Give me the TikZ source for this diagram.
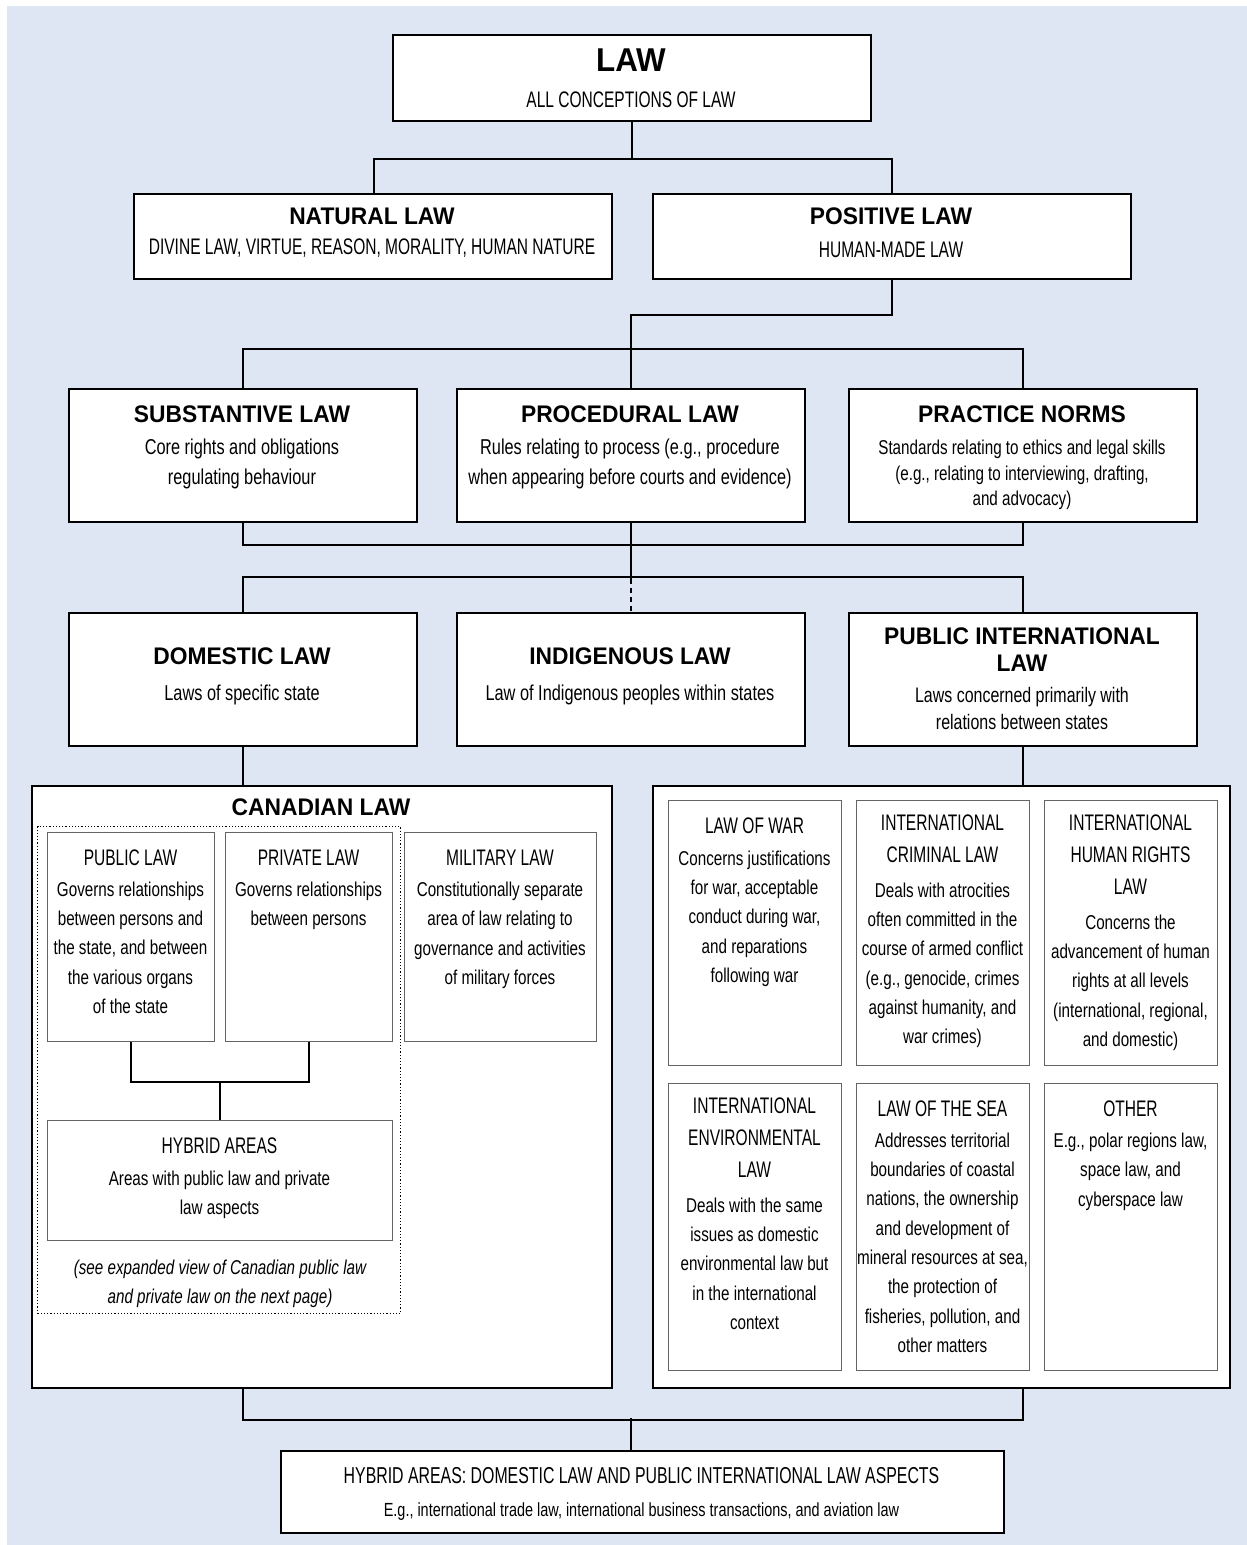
\documentclass[tikz,border=0pt]{standalone}
\usepackage{fontspec}
\setmainfont{Liberation Sans}
\newfontfamily\bodyf{Liberation Sans}[FakeStretch=0.76]
\newfontfamily\headf{Liberation Sans}[FakeStretch=0.69]
\newfontfamily\titlef{Liberation Sans}[FakeStretch=0.95]
\definecolor{bgblue}{RGB}{222,230,243}
\definecolor{thin}{RGB}{100,100,100}
\tikzset{
  bigbox/.style={draw=black, line width=2pt, fill=white, inner sep=0pt, anchor=north west},
  smallbox/.style={draw=thin, line width=1pt, fill=white, inner sep=0pt, anchor=north west},
  conn/.style={line width=2pt, black},
  tx/.style={align=center, inner sep=0pt, yshift=-4.5pt, execute at begin node=\strut, execute at end node=\strut},
  ttl/.style={tx, font=\titlef\bfseries\fontsize{24}{27}\selectfont},
  bigttl/.style={tx, font=\titlef\bfseries\fontsize{33}{36}\selectfont},
  hd/.style={tx, font=\headf\fontsize{22.5}{32}\selectfont},
  bdA/.style={tx, font=\bodyf\fontsize{21.5}{30}\selectfont},
  bdB/.style={tx, font=\bodyf\fontsize{20}{29.3}\selectfont},
}
\begin{document}
\begin{tikzpicture}[x=1pt,y=-1pt]
\useasboundingbox (0,0) rectangle (1247,1545);
\fill[bgblue] (7,6) rectangle (1247,1545);

% ---- level 1
\node[bigbox, minimum width=478, minimum height=86] (law) at (392,34) {};
\node[bigttl] (lawT) at (631,60) {LAW};
\node[hd] (lawS) at (631,97) {ALL CONCEPTIONS OF LAW};

% ---- level 2
\node[bigbox, minimum width=478, minimum height=85] (nat) at (133,193) {};
\node[ttl] (natT) at (372,215) {NATURAL LAW};
\node[hd] (natS) at (372,244) {DIVINE LAW, VIRTUE, REASON, MORALITY, HUMAN NATURE};
\node[bigbox, minimum width=478, minimum height=85] (pos) at (652,193) {};
\node[ttl] (posT) at (891,215) {POSITIVE LAW};
\node[hd] (posS) at (891,247) {HUMAN-MADE LAW};

% ---- level 3
\node[bigbox, minimum width=348, minimum height=133] (sub) at (68,388) {};
\node[ttl] (subT) at (242,413) {SUBSTANTIVE LAW};
\node[bdA] (subB) at (242,462) {Core rights and obligations\\regulating behaviour};
\node[bigbox, minimum width=348, minimum height=133] (proc) at (456,388) {};
\node[ttl] (procT) at (630,413) {PROCEDURAL LAW};
\node[bdA] (procB) at (630,462) {Rules relating to process (e.g., procedure\\when appearing before courts and evidence)};
\node[bigbox, minimum width=348, minimum height=133] (prac) at (848,388) {};
\node[ttl] (pracT) at (1022,413) {PRACTICE NORMS};
\node[bdA, font=\bodyf\fontsize{20}{25.5}\selectfont] (pracB) at (1022,472.5) {Standards relating to ethics and legal skills\\(e.g., relating to interviewing, drafting,\\and advocacy)};

% ---- level 4
\node[bigbox, minimum width=348, minimum height=133] (dom) at (68,612) {};
\node[ttl] (domT) at (242,655) {DOMESTIC LAW};
\node[bdA] (domB) at (242,690) {Laws of specific state};
\node[bigbox, minimum width=348, minimum height=133] (ind) at (456,612) {};
\node[ttl] (indT) at (630,655) {INDIGENOUS LAW};
\node[bdA] (indB) at (630,690) {Law of Indigenous peoples within states};
\node[bigbox, minimum width=348, minimum height=133] (pub) at (848,612) {};
\node[ttl] (pubT) at (1022,649.5) {PUBLIC INTERNATIONAL\\LAW};
\node[bdA, font=\bodyf\fontsize{21}{27}\selectfont] (pubB) at (1022,707.5) {Laws concerned primarily with\\relations between states};

% ---- Canadian law
\node[bigbox, minimum width=580, minimum height=602] (can) at (31,785) {};
\node[ttl] (canT) at (321,806) {CANADIAN LAW};
\node[draw, dotted, line width=1.2pt, inner sep=0pt, anchor=north west, minimum width=363, minimum height=487] (dotb) at (37,826) {};
\node[smallbox, minimum width=167, minimum height=209] (publ) at (47,832) {};
\node[hd] (publT) at (130.5,855) {PUBLIC LAW};
\node[bdB] (publB) at (130.5,947.5) {Governs relationships\\between persons and\\the state, and between\\the various organs\\of the state};
\node[smallbox, minimum width=167, minimum height=209] (priv) at (225,832) {};
\node[hd] (privT) at (308.5,855) {PRIVATE LAW};
\node[bdB] (privB) at (308.5,903.5) {Governs relationships\\between persons};
\node[smallbox, minimum width=192, minimum height=209] (mil) at (404,832) {};
\node[hd] (milT) at (500,855) {MILITARY LAW};
\node[bdB] (milB) at (500,933) {Constitutionally separate\\area of law relating to\\governance and activities\\of military forces};
\node[smallbox, minimum width=345, minimum height=120] (hyb) at (47,1120) {};
\node[hd] (hybT) at (219.5,1143) {HYBRID AREAS};
\node[bdB] (hybB) at (219.5,1192.5) {Areas with public law and private\\law aspects};
\node[bdB, font=\bodyf\itshape\fontsize{20}{29.3}\selectfont] (note) at (220,1281.5) {(see expanded view of Canadian public law\\and private law on the next page)};

% ---- International
\node[bigbox, minimum width=577, minimum height=602] (intl) at (652,785) {};
\node[smallbox, minimum width=173, minimum height=265] (war) at (668,800) {};
\node[hd] (warT) at (754.5,823) {LAW OF WAR};
\node[bdB] (warB) at (754.5,916.5) {Concerns justifications\\for war, acceptable\\conduct during war,\\and reparations\\following war};
\node[smallbox, minimum width=173, minimum height=265] (icl) at (856,800) {};
\node[hd] (iclT) at (942.5,839) {INTERNATIONAL\\CRIMINAL LAW};
\node[bdB] (iclB) at (942.5,963) {Deals with atrocities\\often committed in the\\course of armed conflict\\(e.g., genocide, crimes\\against humanity, and\\war crimes)};
\node[smallbox, minimum width=173, minimum height=265] (ihr) at (1044,800) {};
\node[hd] (ihrT) at (1130.5,855) {INTERNATIONAL\\HUMAN RIGHTS\\LAW};
\node[bdB] (ihrB) at (1130.5,980.5) {Concerns the\\advancement of human\\rights at all levels\\(international, regional,\\and domestic)};
\node[smallbox, minimum width=173, minimum height=287] (env) at (668,1083) {};
\node[hd] (envT) at (754.5,1138) {INTERNATIONAL\\ENVIRONMENTAL\\LAW};
\node[bdB] (envB) at (754.5,1263.5) {Deals with the same\\issues as domestic\\environmental law but\\in the international\\context};
\node[smallbox, minimum width=173, minimum height=287] (sea) at (856,1083) {};
\node[hd] (seaT) at (942.5,1106) {LAW OF THE SEA};
\node[bdB] (seaB) at (942.5,1242.5) {Addresses territorial\\boundaries of coastal\\nations, the ownership\\and development of\\mineral resources at sea,\\the protection of\\fisheries, pollution, and\\other matters};
\node[smallbox, minimum width=173, minimum height=287] (oth) at (1044,1083) {};
\node[hd] (othT) at (1130.5,1106) {OTHER};
\node[bdB] (othB) at (1130.5,1169.5) {E.g., polar regions law,\\space law, and\\cyberspace law};

% ---- bottom
\node[bigbox, minimum width=723, minimum height=82] (bot) at (280,1450) {};
\node[hd, font=\headf\fontsize{23}{30}\selectfont] (botT) at (641.5,1473) {HYBRID AREAS: DOMESTIC LAW AND PUBLIC INTERNATIONAL LAW ASPECTS};
\node[bdB, font=\bodyf\fontsize{19}{28}\selectfont] (botB) at (641.5,1506) {E.g., international trade law, international business transactions, and aviation law};

% ---- connectors
\draw[conn] (law.south) -- ++(0,37) coordinate (j1);
\draw[conn] (nat.north) ++(1,0) |- (j1) -| (pos.north);
\draw[conn] (pos.south) -- ++(0,35) -| (proc.north);
\draw[conn] (sub.north) -- ++(0,-39) -| (prac.north);
\draw[conn] (sub.south) -- ++(0,22) -| (prac.south);
\draw[conn] (proc.south) -- ++(0,56) coordinate (j2);
\draw[conn] (dom.north) -- ++(0,-35) -| (pub.north);
\draw[conn, dash pattern=on 5pt off 4pt] (j2) -- (ind.north);
\draw[conn] (dom.south) -- (dom.south |- can.north);
\draw[conn] (pub.south) -- (pub.south |- intl.north);
\draw[conn] (publ.south) -- ++(0,40) -| (priv.south);
\draw[conn] (hyb.north) -- ++(0,-39);
\draw[conn] (dom.south |- can.south) -- ++(0,31) -| (pub.south |- intl.south);
\draw[conn] (bot.north -| proc.south) -- ++(0,-32);
\end{tikzpicture}
\end{document}
